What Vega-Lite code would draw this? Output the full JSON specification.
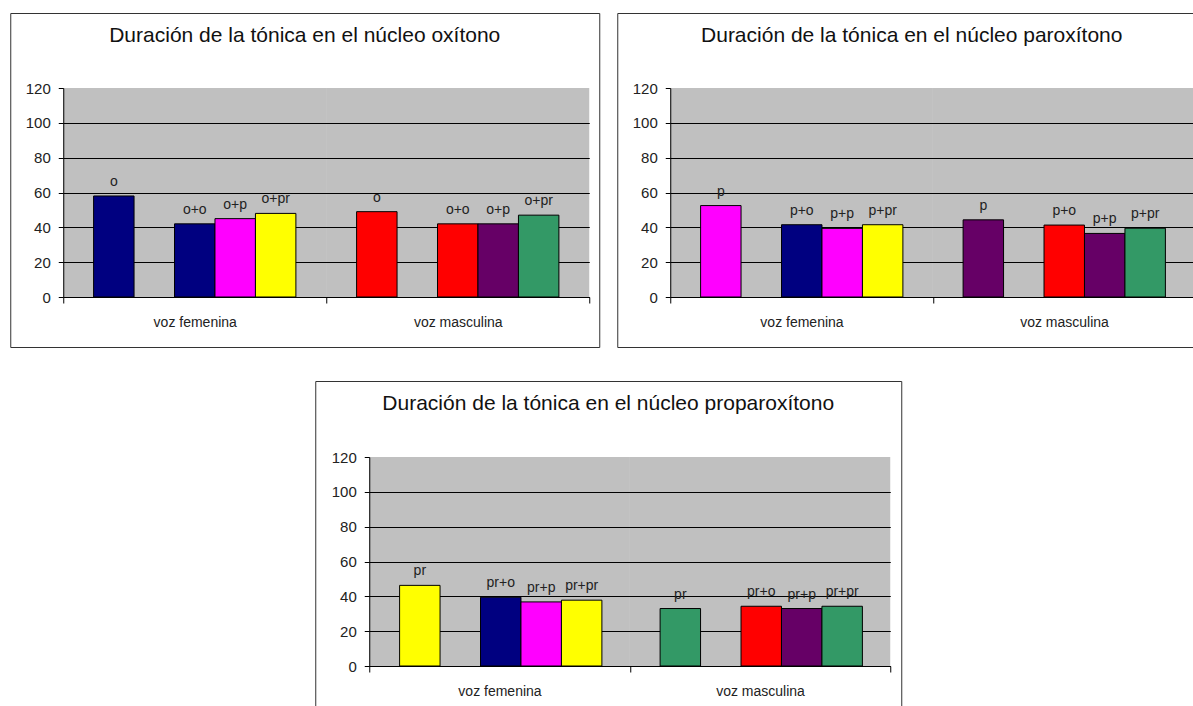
{
  "$schema": "https://vega.github.io/schema/vega-lite/v6.json",
  "padding": {"left": 9, "top": 12, "right": 0, "bottom": 0},
  "background": "white",
  "config": {
    "font": "Liberation Sans",
    "view": {"stroke": "#333333", "strokeWidth": 1, "fill": "white"},
    "title": {"font": "Liberation Sans", "fontSize": 21, "fontWeight": "normal", "color": "#111111", "anchor": "middle", "frame": "group", "offset": -33},
    "axis": {"labelFont": "Liberation Sans", "labelFontSize": 14, "labelColor": "#222222", "domainColor": "#000000", "tickColor": "#000000", "title": null},
    "text": {"font": "Liberation Sans", "fontSize": 14, "color": "#222222"}
  },
  "data": {"values": [
    {"nucleo": "oxítono", "voz": "voz femenina", "contexto": "aislado", "etiqueta": "o", "serie": "fem o", "duracion": 58},
    {"nucleo": "oxítono", "voz": "voz femenina", "contexto": "+o", "etiqueta": "o+o", "serie": "fem o", "duracion": 42},
    {"nucleo": "oxítono", "voz": "voz femenina", "contexto": "+p", "etiqueta": "o+p", "serie": "fem p", "duracion": 45},
    {"nucleo": "oxítono", "voz": "voz femenina", "contexto": "+pr", "etiqueta": "o+pr", "serie": "fem pr", "duracion": 48},
    {"nucleo": "oxítono", "voz": "voz masculina", "contexto": "aislado", "etiqueta": "o", "serie": "masc o", "duracion": 49},
    {"nucleo": "oxítono", "voz": "voz masculina", "contexto": "+o", "etiqueta": "o+o", "serie": "masc o", "duracion": 42},
    {"nucleo": "oxítono", "voz": "voz masculina", "contexto": "+p", "etiqueta": "o+p", "serie": "masc p", "duracion": 42},
    {"nucleo": "oxítono", "voz": "voz masculina", "contexto": "+pr", "etiqueta": "o+pr", "serie": "masc pr", "duracion": 47},
    {"nucleo": "paroxítono", "voz": "voz femenina", "contexto": "aislado", "etiqueta": "p", "serie": "fem p", "duracion": 52.5},
    {"nucleo": "paroxítono", "voz": "voz femenina", "contexto": "+o", "etiqueta": "p+o", "serie": "fem o", "duracion": 41.5},
    {"nucleo": "paroxítono", "voz": "voz femenina", "contexto": "+p", "etiqueta": "p+p", "serie": "fem p", "duracion": 39.4},
    {"nucleo": "paroxítono", "voz": "voz femenina", "contexto": "+pr", "etiqueta": "p+pr", "serie": "fem pr", "duracion": 41.5},
    {"nucleo": "paroxítono", "voz": "voz masculina", "contexto": "aislado", "etiqueta": "p", "serie": "masc p", "duracion": 44.3},
    {"nucleo": "paroxítono", "voz": "voz masculina", "contexto": "+o", "etiqueta": "p+o", "serie": "masc o", "duracion": 41.3},
    {"nucleo": "paroxítono", "voz": "voz masculina", "contexto": "+p", "etiqueta": "p+p", "serie": "masc p", "duracion": 36.5},
    {"nucleo": "paroxítono", "voz": "voz masculina", "contexto": "+pr", "etiqueta": "p+pr", "serie": "masc pr", "duracion": 39.5},
    {"nucleo": "proparoxítono", "voz": "voz femenina", "contexto": "aislado", "etiqueta": "pr", "serie": "fem pr", "duracion": 46.3},
    {"nucleo": "proparoxítono", "voz": "voz femenina", "contexto": "+o", "etiqueta": "pr+o", "serie": "fem o", "duracion": 39.5},
    {"nucleo": "proparoxítono", "voz": "voz femenina", "contexto": "+p", "etiqueta": "pr+p", "serie": "fem p", "duracion": 36.8},
    {"nucleo": "proparoxítono", "voz": "voz femenina", "contexto": "+pr", "etiqueta": "pr+pr", "serie": "fem pr", "duracion": 37.8},
    {"nucleo": "proparoxítono", "voz": "voz masculina", "contexto": "aislado", "etiqueta": "pr", "serie": "masc pr", "duracion": 33},
    {"nucleo": "proparoxítono", "voz": "voz masculina", "contexto": "+o", "etiqueta": "pr+o", "serie": "masc o", "duracion": 34.3},
    {"nucleo": "proparoxítono", "voz": "voz masculina", "contexto": "+p", "etiqueta": "pr+p", "serie": "masc p", "duracion": 33},
    {"nucleo": "proparoxítono", "voz": "voz masculina", "contexto": "+pr", "etiqueta": "pr+pr", "serie": "masc pr", "duracion": 34.3}
  ]},
  "spacing": 32,
  "center": true,
  "vconcat": [
    {
      "spacing": 16,
      "hconcat": [
        {
          "width": 589, "height": 334,
          "title": "Duración de la tónica en el núcleo oxítono",
          "encoding": {
            "x": {"field": "voz", "type": "nominal", "scale": {"domain": ["voz femenina", "voz masculina"], "range": [53, 579], "paddingInner": 0, "paddingOuter": 0},
                  "axis": {"orient": "bottom", "offset": -50, "labelAngle": 0, "tickBand": "extent", "tickSize": 6, "labelPadding": 19, "labelBaseline": "middle", "grid": false}}
          },
          "layer": [
            {"data": {"values": [{"voz": "voz femenina"}, {"voz": "voz masculina"}]},
             "mark": {"type": "bar", "color": "#000000", "opacity": 0.247, "strokeWidth": 0},
             "encoding": {"y": {"datum": 120, "type": "quantitative", "scale": {"domain": [0, 120], "range": [284, 75], "nice": false, "zero": true},
                  "axis": {"values": [0, 20, 40, 60, 80, 100, 120], "offset": -53, "tickSize": 5, "labelPadding": 8, "labelFontSize": 15, "grid": true, "gridWidth": 1,
                           "gridColor": {"condition": {"test": "datum.value >= 120", "value": "transparent"}, "value": "#000000"}}},
                          "y2": {"datum": 0}}},
            {"transform": [{"filter": {"field": "nucleo", "equal": "oxítono"}}],
             "mark": {"type": "bar", "stroke": "#000000", "strokeWidth": 1},
             "encoding": {
               "y": {"field": "duracion", "type": "quantitative"},
               "xOffset": {"field": "contexto", "type": "nominal", "scale": {"domain": ["aislado", "hueco", "+o", "+p", "+pr"], "paddingInner": 0, "paddingOuter": 0.75}},
               "color": {"field": "serie", "type": "nominal", "legend": null, "scale": {"domain": ["fem o", "fem p", "fem pr", "masc o", "masc p", "masc pr"], "range": ["#000080", "#FF00FF", "#FFFF00", "#FF0000", "#660066", "#339966"]}}}},
            {"transform": [{"filter": {"field": "nucleo", "equal": "oxítono"}}],
             "mark": {"type": "text", "baseline": "alphabetic", "dy": -10},
             "encoding": {
               "y": {"field": "duracion", "type": "quantitative"},
               "xOffset": {"field": "contexto", "type": "nominal"},
               "text": {"field": "etiqueta", "type": "nominal"}}}
          ]
        },
        {
          "width": 589, "height": 334,
          "title": "Duración de la tónica en el núcleo paroxítono",
          "encoding": {
            "x": {"field": "voz", "type": "nominal", "scale": {"domain": ["voz femenina", "voz masculina"], "range": [53, 578], "paddingInner": 0, "paddingOuter": 0},
                  "axis": {"orient": "bottom", "offset": -50, "labelAngle": 0, "tickBand": "extent", "tickSize": 6, "labelPadding": 19, "labelBaseline": "middle", "grid": false}}
          },
          "layer": [
            {"data": {"values": [{"voz": "voz femenina"}, {"voz": "voz masculina"}]},
             "mark": {"type": "bar", "color": "#000000", "opacity": 0.247, "strokeWidth": 0},
             "encoding": {"y": {"datum": 120, "type": "quantitative", "scale": {"domain": [0, 120], "range": [284, 75], "nice": false, "zero": true},
                  "axis": {"values": [0, 20, 40, 60, 80, 100, 120], "offset": -53, "tickSize": 5, "labelPadding": 8, "labelFontSize": 15, "grid": true, "gridWidth": 1,
                           "gridColor": {"condition": {"test": "datum.value >= 120", "value": "transparent"}, "value": "#000000"}}},
                          "y2": {"datum": 0}}},
            {"transform": [{"filter": {"field": "nucleo", "equal": "paroxítono"}}],
             "mark": {"type": "bar", "stroke": "#000000", "strokeWidth": 1},
             "encoding": {
               "y": {"field": "duracion", "type": "quantitative"},
               "xOffset": {"field": "contexto", "type": "nominal", "scale": {"domain": ["aislado", "hueco", "+o", "+p", "+pr"], "paddingInner": 0, "paddingOuter": 0.75}},
               "color": {"field": "serie", "type": "nominal", "legend": null, "scale": {"domain": ["fem o", "fem p", "fem pr", "masc o", "masc p", "masc pr"], "range": ["#000080", "#FF00FF", "#FFFF00", "#FF0000", "#660066", "#339966"]}}}},
            {"transform": [{"filter": {"field": "nucleo", "equal": "paroxítono"}}],
             "mark": {"type": "text", "baseline": "alphabetic", "dy": -10},
             "encoding": {
               "y": {"field": "duracion", "type": "quantitative"},
               "xOffset": {"field": "contexto", "type": "nominal"},
               "text": {"field": "etiqueta", "type": "nominal"}}}
          ]
        }
      ]
    },
    {
      "width": 586, "height": 334,
      "title": "Duración de la tónica en el núcleo proparoxítono",
      "encoding": {
        "x": {"field": "voz", "type": "nominal", "scale": {"domain": ["voz femenina", "voz masculina"], "range": [54, 575], "paddingInner": 0, "paddingOuter": 0},
              "axis": {"orient": "bottom", "offset": -49, "labelAngle": 0, "tickBand": "extent", "tickSize": 6, "labelPadding": 19, "labelBaseline": "middle", "grid": false}}
      },
      "layer": [
        {"data": {"values": [{"voz": "voz femenina"}, {"voz": "voz masculina"}]},
         "mark": {"type": "bar", "color": "#000000", "opacity": 0.247, "strokeWidth": 0},
         "encoding": {"y": {"datum": 120, "type": "quantitative", "scale": {"domain": [0, 120], "range": [285, 76], "nice": false, "zero": true},
              "axis": {"values": [0, 20, 40, 60, 80, 100, 120], "offset": -54, "tickSize": 5, "labelPadding": 8, "labelFontSize": 15, "grid": true, "gridWidth": 1,
                       "gridColor": {"condition": {"test": "datum.value >= 120", "value": "transparent"}, "value": "#000000"}}},
                      "y2": {"datum": 0}}},
        {"transform": [{"filter": {"field": "nucleo", "equal": "proparoxítono"}}],
         "mark": {"type": "bar", "stroke": "#000000", "strokeWidth": 1},
         "encoding": {
           "y": {"field": "duracion", "type": "quantitative"},
           "xOffset": {"field": "contexto", "type": "nominal", "scale": {"domain": ["aislado", "hueco", "+o", "+p", "+pr"], "paddingInner": 0, "paddingOuter": 0.75}},
           "color": {"field": "serie", "type": "nominal", "legend": null, "scale": {"domain": ["fem o", "fem p", "fem pr", "masc o", "masc p", "masc pr"], "range": ["#000080", "#FF00FF", "#FFFF00", "#FF0000", "#660066", "#339966"]}}}},
        {"transform": [{"filter": {"field": "nucleo", "equal": "proparoxítono"}}],
         "mark": {"type": "text", "baseline": "alphabetic", "dy": -10},
         "encoding": {
           "y": {"field": "duracion", "type": "quantitative"},
           "xOffset": {"field": "contexto", "type": "nominal"},
           "text": {"field": "etiqueta", "type": "nominal"}}}
      ]
    }
  ]
}
